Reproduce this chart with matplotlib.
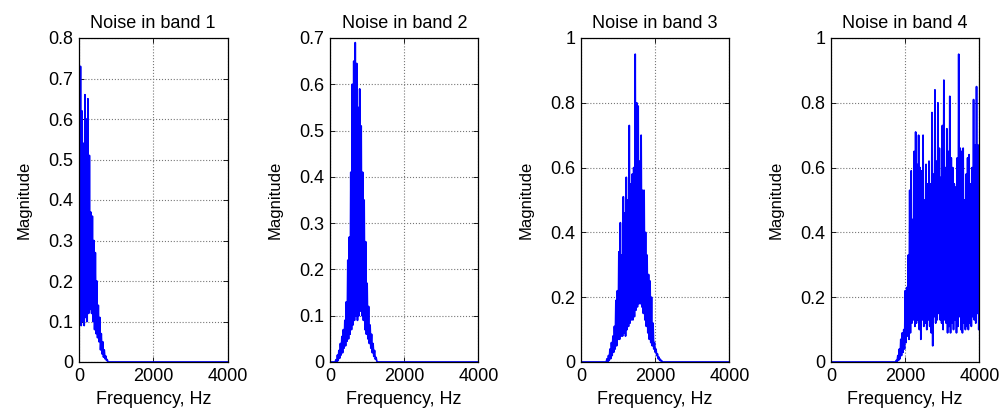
import numpy as np
import matplotlib
matplotlib.use("Agg")
import matplotlib.pyplot as plt
from matplotlib.ticker import FixedLocator, FuncFormatter

plt.rcParams["font.family"] = ["Liberation Sans", "DejaVu Sans"]

# spectra: 20 Hz grid, alternating peak / trough samples
STEP = 20
FMAX = 4000

band1_start = 0
band1_mag = [
    0.55, 0.10, 0.73, 0.09, 0.62, 0.10, 0.54, 0.09, 0.66, 0.11,
    0.60, 0.10, 0.65, 0.12, 0.51, 0.13, 0.37, 0.12, 0.36, 0.10,
    0.30, 0.08, 0.27, 0.07, 0.20, 0.06, 0.14, 0.05, 0.11, 0.03,
    0.07, 0.02, 0.05, 0.012, 0.03, 0.008, 0.015, 0.004, 0.006, 0.0,
]

band2_start = 160
band2_mag = [
    0.005, 0.0, 0.015, 0.003, 0.025, 0.008, 0.04, 0.015, 0.055, 0.02,
    0.07, 0.03, 0.09, 0.035, 0.13, 0.045, 0.22, 0.05, 0.27, 0.06,
    0.41, 0.07, 0.60, 0.08, 0.65, 0.09, 0.69, 0.10, 0.645, 0.09,
    0.55, 0.10, 0.59, 0.11, 0.51, 0.10, 0.41, 0.09, 0.35, 0.07,
    0.26, 0.06, 0.17, 0.05, 0.12, 0.04, 0.08, 0.03, 0.06, 0.02,
    0.04, 0.012, 0.025, 0.006, 0.01, 0.002,
]

band3_start = 660
band3_mag = [
    0.0, 0.0, 0.01, 0.0, 0.02, 0.005, 0.04, 0.01, 0.06, 0.02,
    0.08, 0.03, 0.11, 0.04, 0.19, 0.05, 0.22, 0.07, 0.34, 0.07,
    0.43, 0.08, 0.33, 0.08, 0.51, 0.09, 0.46, 0.08, 0.57, 0.10,
    0.50, 0.11, 0.73, 0.12, 0.55, 0.13, 0.58, 0.13, 0.60, 0.14,
    0.95, 0.16, 0.80, 0.17, 0.79, 0.18, 0.62, 0.18, 0.70, 0.17,
    0.53, 0.15, 0.53, 0.13, 0.40, 0.11, 0.33, 0.09, 0.27, 0.07,
    0.25, 0.06, 0.20, 0.05, 0.12, 0.04, 0.06, 0.03, 0.04, 0.02,
    0.025, 0.01, 0.015, 0.005, 0.008, 0.002, 0.003, 0.0,
]

band4_start = 1720
band4_mag = [
    0.0, 0.0, 0.005, 0.0, 0.02, 0.005, 0.04, 0.01, 0.07, 0.02,
    0.09, 0.03, 0.10, 0.04, 0.22, 0.06, 0.23, 0.08, 0.33, 0.07,
    0.53, 0.09, 0.59, 0.12, 0.44, 0.13, 0.65, 0.11, 0.71, 0.12,
    0.61, 0.13, 0.70, 0.10, 0.60, 0.07, 0.59, 0.13, 0.70, 0.11,
    0.50, 0.12, 0.61, 0.10, 0.55, 0.13, 0.62, 0.11, 0.55, 0.09,
    0.77, 0.05, 0.58, 0.14, 0.84, 0.12, 0.62, 0.13, 0.80, 0.15,
    0.66, 0.13, 0.57, 0.12, 0.73, 0.10, 0.87, 0.13, 0.60, 0.12,
    0.72, 0.09, 0.65, 0.11, 0.82, 0.09, 0.63, 0.12, 0.60, 0.10,
    0.55, 0.13, 0.54, 0.09, 0.63, 0.11, 0.95, 0.14, 0.66, 0.10,
    0.65, 0.09, 0.66, 0.12, 0.50, 0.10, 0.58, 0.11, 0.63, 0.10,
    0.64, 0.12, 0.55, 0.11, 0.60, 0.14, 0.81, 0.13, 0.67, 0.12,
    0.85, 0.15, 0.67, 0.10, 0.20,
]

titles = ["Noise in band 1", "Noise in band 2", "Noise in band 3", "Noise in band 4"]
starts = [band1_start, band2_start, band3_start, band4_start]
mags = [band1_mag, band2_mag, band3_mag, band4_mag]
ymaxes = [0.8, 0.7, 1.0, 1.0]
yticks = [
    [0, 0.1, 0.2, 0.3, 0.4, 0.5, 0.6, 0.7, 0.8],
    [0, 0.1, 0.2, 0.3, 0.4, 0.5, 0.6, 0.7],
    [0, 0.2, 0.4, 0.6, 0.8, 1.0],
    [0, 0.2, 0.4, 0.6, 0.8, 1.0],
]
xticks = [0, 2000, 4000]

W, H = 1003, 409
fig = plt.figure(figsize=(W / 100, H / 100), dpi=100)
lefts = [79, 330, 581, 831]

freq = np.arange(0, FMAX + STEP, STEP)
for i in range(4):
    ax = fig.add_axes([lefts[i] / W, 47 / H, 148.5 / W, 324 / H])
    spec = np.zeros_like(freq, dtype=float)
    k0 = starts[i] // STEP
    spec[k0:k0 + len(mags[i])] = mags[i]
    ax.plot(freq, spec, color="#0000ff", linewidth=1.25)

    ax.set_xlim(0, FMAX)
    ax.set_ylim(0, ymaxes[i])
    ax.xaxis.set_major_locator(FixedLocator(xticks))
    ax.yaxis.set_major_locator(FixedLocator(yticks[i]))
    ax.yaxis.set_major_formatter(FuncFormatter(lambda v, p: f"{v:g}"))
    ax.tick_params(direction="in", length=3.5, width=0.6, top=True, right=True,
                   labelsize=13, pad=4, colors="black")
    ax.grid(True, linestyle=":", color="#777777", linewidth=0.8)
    for s in ax.spines.values():
        s.set_linewidth(0.9)
    ax.set_title(titles[i], fontsize=13, pad=7)
    ax.set_xlabel("Frequency, Hz", fontsize=13, labelpad=5)
    ax.set_ylabel("Magnitude", fontsize=12, labelpad=12)

fig.savefig("out.png", dpi=100)
